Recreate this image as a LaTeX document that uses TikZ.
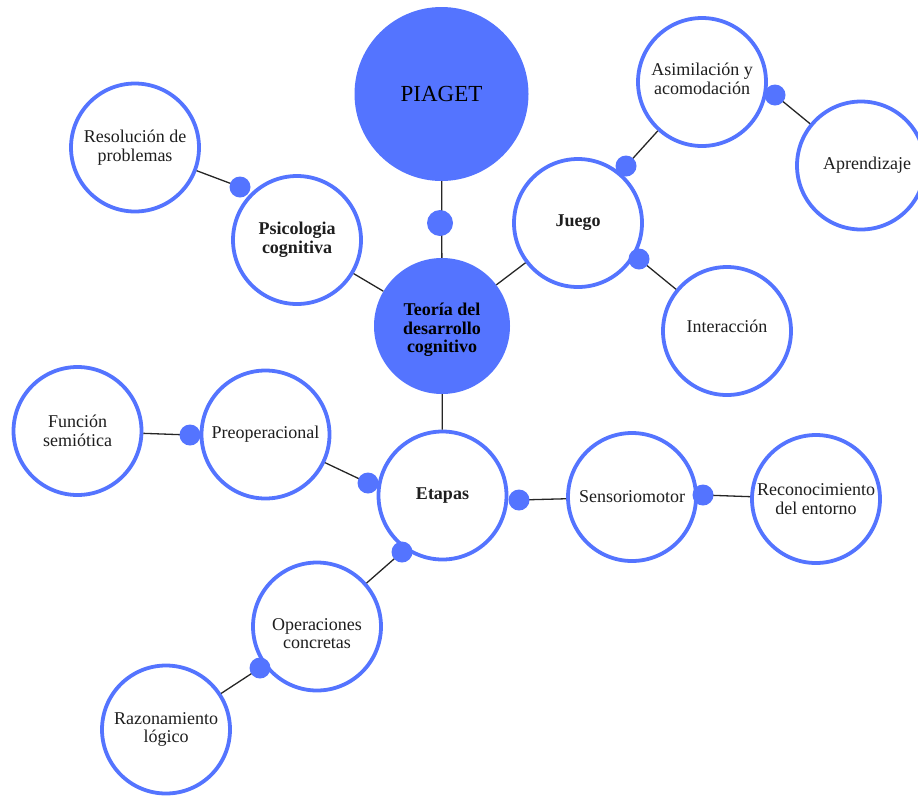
\documentclass[tikz,border=0pt]{standalone}
\usepackage{fontspec}
\setmainfont{Liberation Serif}
\usetikzlibrary{calc}
\definecolor{bblue}{RGB}{84,116,255}
\definecolor{txtc}{RGB}{30,30,30}
\begin{document}
\begin{tikzpicture}[x=1pt,y=-1pt,
  txtfont/.style={font=\fontsize{18}{18.6}\selectfont},
  bub/.style={circle,draw=bblue,line width=3.8pt,fill=white,minimum size=128pt,
    inner sep=0pt,align=center,txtfont,text=txtc},
  hub/.style={circle,fill=bblue,draw=none,inner sep=0pt,align=center,text=black},
  bold/.style={font=\fontsize{18}{18.6}\selectfont\bfseries},
  lbl/.style={align=center,txtfont,text=txtc,inner sep=0pt},
  conn/.style={line width=1.3pt,black!85},
  knob/.style={fill=bblue}]
\useasboundingbox (0,0) rectangle (918,796);
\begin{scope}
\clip (0,0) rectangle (918,796);
% hubs
\node[hub,minimum size=174pt,font=\fontsize{23}{26}\selectfont] (pia) at (441.5,94) {PIAGET};
\node[hub,minimum size=136pt,label={[lbl,bold,text=black,yshift=-4pt]center:Teoría del\\desarrollo\\cognitivo}] (teo) at (442,326) {};
% bubbles
\node[bub,bold] (psi) at (297,240) {Psicologia\\cognitiva};
\node[bub] (res) at (135,147.5) {Resolución de\\problemas};
\node[bub,bold] (jue) at (578,223) {Juego};
\node[bub,label={[lbl,yshift=3pt]center:Asimilación y\\acomodación}] (asi) at (702,82) {};
\node[bub,label={[lbl,xshift=6pt]center:Aprendizaje}] (apr) at (861,165.5) {};
\node[bub,label={[lbl,yshift=5pt]center:Interacción}] (int) at (727,331) {};
\node[bub,bold] (eta) at (442.5,495.5) {Etapas};
\node[bub] (pre) at (265.5,434.5) {Preoperacional};
\node[bub] (fun) at (77.5,431) {Función\\semiótica};
\node[bub] (sen) at (632,497) {Sensoriomotor};
\node[bub] (rec) at (816,499) {Reconocimiento\\del entorno};
\node[bub,label={[lbl,yshift=-7pt]center:Operaciones\\concretas}] (ope) at (317,626.5) {};
\node[bub] (raz) at (166,729.5) {Razonamiento\\lógico};
% knob positions
\coordinate (k1) at (440,223);
\coordinate (k2) at (240,187);
\coordinate (k3) at (626,166);
\coordinate (k4) at (775,95);
\coordinate (k5) at (639,259);
\coordinate (k6) at (368,483);
\coordinate (k7) at (190,435);
\coordinate (k8) at (519,500);
\coordinate (k9) at (703,495);
\coordinate (k10) at (402,552);
\coordinate (k11) at (260,668);
% connectors
\draw[conn] (pia) -- (teo);
\draw[conn] (teo) -- (psi);
\draw[conn] (k2) -- (res);
\draw[conn] (teo) -- (jue);
\draw[conn] (k3) -- (asi);
\draw[conn] (k4) -- (apr);
\draw[conn] (k5) -- (int);
\draw[conn] (teo) -- (eta);
\draw[conn] (k6) -- (pre);
\draw[conn] (k7) -- (fun);
\draw[conn] (k8) -- (sen);
\draw[conn] (k9) -- (rec);
\draw[conn] (k10) -- (ope);
\draw[conn] (k11) -- (raz);
% knobs
\fill[knob] (k1) circle (13pt);
\foreach \k in {k2,k3,k4,k5,k6,k7,k8,k9,k10,k11}
  \fill[knob] (\k) circle (10.5pt);
\end{scope}
\end{tikzpicture}
\end{document}
